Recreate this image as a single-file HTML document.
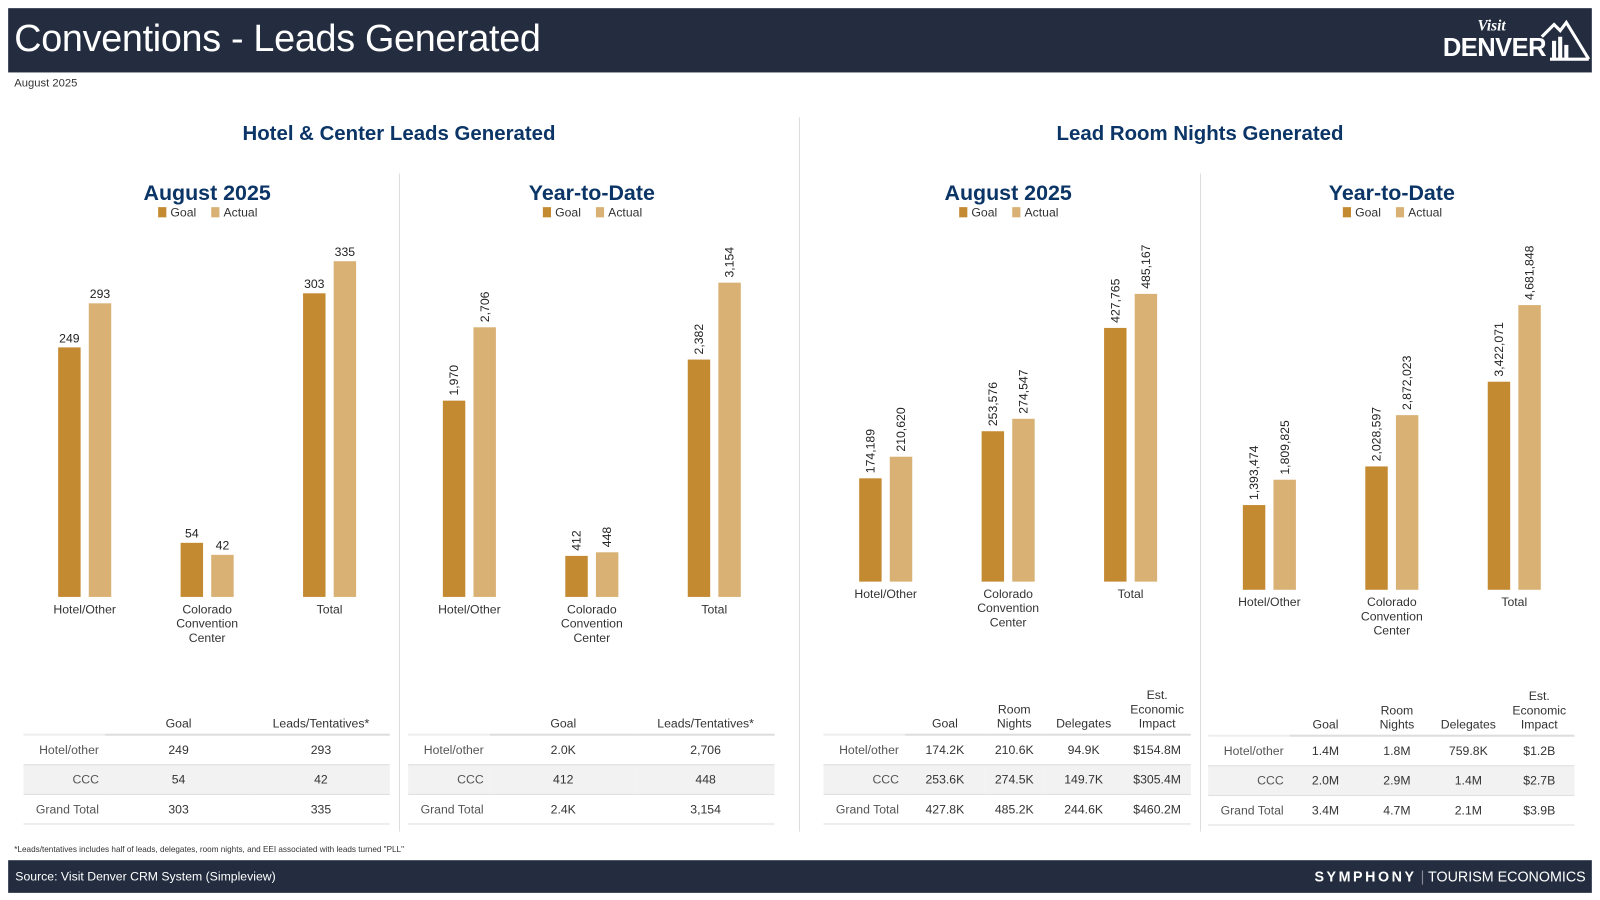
<!DOCTYPE html>
<html><head><meta charset="utf-8">
<style>
html,body{margin:0;padding:0;background:#fff;width:1600px;height:900px;overflow:hidden}
#wrap{position:absolute;left:0;top:0;width:1568px;height:882px;transform:scale(1.0204);transform-origin:0 0;font-family:"Liberation Sans",sans-serif;color:#333}
.abs{position:absolute}
.hdr{left:8px;top:8px;width:1552px;height:63px;background:#232d3f}
.title{left:14px;top:17px;font-size:37px;color:#fff;white-space:nowrap;letter-spacing:-0.3px}
.sec{font-size:20px;font-weight:bold;color:#0b3566;text-align:center;width:500px}
.vline{width:1px;background:#ddd}
table{position:absolute;border-collapse:collapse;font-size:12px;color:#333}
td,th{padding:0;font-weight:normal}
.foot{left:8px;top:843px;width:1552px;height:32px;background:#232d3f}
</style></head><body>
<div id="wrap">
<div class="abs hdr"></div>
<div class="abs title">Conventions - Leads Generated</div>
<div class="abs" style="left:1414px;top:18px;width:145px;height:46px;color:#fff">
  <div style="position:absolute;left:34px;top:0;font-style:italic;font-size:15px;font-family:'Liberation Serif',serif;font-weight:bold">Visit</div>
  <div style="position:absolute;left:0;top:15px;font-size:25px;font-weight:bold;letter-spacing:-0.5px">DENVER</div>
  <svg style="position:absolute;left:95px;top:0" width="50" height="46" viewBox="0 0 50 46"><polyline points="2,18 14,6 20,12 26,4 48,40" fill="none" stroke="#fff" stroke-width="3"/><rect x="12" y="22" width="4" height="18" fill="#fff"/><rect x="18" y="18" width="4" height="22" fill="#fff"/><rect x="24" y="26" width="4" height="14" fill="#fff"/><line x1="10" y1="40" x2="48" y2="40" stroke="#fff" stroke-width="3"/></svg>
</div>
<div class="abs" style="left:14px;top:76px;font-size:11px;color:#333">August 2025</div>

<div class="abs sec" style="left:141px;top:120px">Hotel &amp; Center Leads Generated</div>
<div class="abs sec" style="left:926px;top:120px">Lead Room Nights Generated</div>

<div class="abs vline" style="left:391px;top:170px;height:645px"></div>
<div class="abs vline" style="left:783px;top:115px;height:700px"></div>
<div class="abs vline" style="left:1176px;top:170px;height:645px"></div>

<svg id="charts" class="abs" style="left:0;top:0" width="1568" height="882"></svg>

<div class="abs" style="left:14px;top:828px;font-size:8px;color:#333">*Leads/tentatives includes half of leads, delegates, room nights, and EEI associated with leads turned "PLL"</div>
<div class="abs foot"></div>
<div class="abs" style="left:15px;top:852px;font-size:12px;color:#fff">Source: Visit Denver CRM System (Simpleview)</div>
<div class="abs" style="right:14px;top:851px;font-size:14px;color:#fff;white-space:nowrap"><b style="letter-spacing:2.5px">SYMPHONY</b> <span style="color:#889">|</span> TOURISM ECONOMICS</div>
<div id="tables"></div>
</div>
<script>
// ---- chart data ----
const categories = ["Hotel/Other", "Colorado\nConvention\nCenter", "Total"];
const augLeadsGoal = [249, 54, 303];
const augLeadsActual = [293, 42, 335];
const ytdLeadsGoal = [1970, 412, 2382];
const ytdLeadsActual = [2706, 448, 3154];
const augNightsGoal = [174189, 253576, 427765];
const augNightsActual = [210620, 274547, 485167];
const ytdNightsGoal = [1393474, 2028597, 3422071];
const ytdNightsActual = [1809825, 2872023, 4681848];

const GOAL = "#c48a32", ACT = "#d9b174";
const NS = "http://www.w3.org/2000/svg";
const svg = document.getElementById('charts');
function mk(tag, attrs){const e=document.createElementNS(NS,tag);for(const k in attrs)e.setAttribute(k,attrs[k]);svg.appendChild(e);return e;}
const fmt = v => v.toLocaleString('en-US');

const charts = [
  {id:'aug-leads', cx:203, base:585, pxMax:329, goal:augLeadsGoal, act:augLeadsActual, rot:false, title:'August 2025', catY:596},
  {id:'ytd-leads', cx:580, base:585, pxMax:308, goal:ytdLeadsGoal, act:ytdLeadsActual, rot:true, title:'Year-to-Date', catY:596},
  {id:'aug-nights', cx:988, base:570, pxMax:282, goal:augNightsGoal, act:augNightsActual, rot:true, title:'August 2025', catY:581},
  {id:'ytd-nights', cx:1364, base:578, pxMax:279, goal:ytdNightsGoal, act:ytdNightsActual, rot:true, title:'Year-to-Date', catY:589}
];
charts.forEach(c=>{
  const maxV = Math.max(...c.goal, ...c.act);
  const y = v => c.base - v / maxV * c.pxMax;
  const xc = i => c.cx + (i-1)*120;
  const t = mk('text',{x:c.cx,y:196,'text-anchor':'middle','font-size':21,'font-weight':'bold',fill:'#0b3566'});
  t.textContent=c.title;
  
  
  const lg = mk('g',{});
  
  
  [[GOAL,'Goal',-48],[ACT,'Actual',4]].forEach(([col,lab,dx])=>{
    const r=mk('rect',{x:c.cx+dx,y:203,width:8,height:10,fill:col});lg.appendChild(r);
    const tx=mk('text',{x:c.cx+dx+12,y:212,'font-size':12,fill:'#333'});tx.textContent=lab;lg.appendChild(tx);
  });
  categories.forEach((cat,i)=>{
    [[c.goal[i],GOAL,-26,'goal'],[c.act[i],ACT,4,'actual']].forEach(([v,col,dx,kind])=>{
      const top=y(v);
      const b=mk('rect',{x:xc(i)+dx,y:top,width:22,height:c.base-top,fill:col});
      
      
      const lx=xc(i)+dx+11;
      const l=mk('text',{'font-size':12,fill:'#222'});
      l.textContent=fmt(v);
      if(c.rot){l.setAttribute('transform',`translate(${lx+4},${top-5}) rotate(-90)`);}
      else{l.setAttribute('x',lx);l.setAttribute('y',top-5);l.setAttribute('text-anchor','middle');}
      
      
    });
    cat.split('\n').forEach((ln,j)=>{
      const ct=mk('text',{x:xc(i),y:c.catY+5+j*14,'text-anchor':'middle','font-size':12,fill:'#333'});
      ct.textContent=ln;
      
      
    });
  });
});

// ---- tables ----
const tables = [
  {x:23, w:359, labW:80, cols:[{h:['Goal'],w:144},{h:['Leads/Tentatives*'],w:135}], headTop:698, rows:[['Hotel/other','249','293'],['CCC','54','42'],['Grand Total','303','335']]},
  {x:400, w:359, labW:80, cols:[{h:['Goal'],w:144},{h:['Leads/Tentatives*'],w:135}], headTop:698, rows:[['Hotel/other','2.0K','2,706'],['CCC','412','448'],['Grand Total','2.4K','3,154']]},
  {x:807, w:360, labW:80, cols:[{h:['Goal'],w:78},{h:['Room','Nights'],w:58},{h:['Delegates'],w:78},{h:['Est.','Economic','Impact'],w:66}], headTop:670, rows:[['Hotel/other','174.2K','210.6K','94.9K','$154.8M'],['CCC','253.6K','274.5K','149.7K','$305.4M'],['Grand Total','427.8K','485.2K','244.6K','$460.2M']]},
  {x:1184, w:359, labW:80, cols:[{h:['Goal'],w:70},{h:['Room','Nights'],w:70},{h:['Delegates'],w:70},{h:['Est.','Economic','Impact'],w:69}], headTop:675, rows:[['Hotel/other','1.4M','1.8M','759.8K','$1.2B'],['CCC','2.0M','2.9M','1.4M','$2.7B'],['Grand Total','3.4M','4.7M','2.1M','$3.9B']]}
];
const tw=document.getElementById('tables');
tables.forEach((t,ti)=>{
  const tb=document.createElement('table');
  
  
  const headH = 720 - t.headTop;
  tb.style.left=t.x+'px'; tb.style.top=t.headTop+'px'; tb.style.width=t.w+'px';
  let h='<tr style="height:'+headH+'px"><th style="width:'+t.labW+'px;border-bottom:2px solid #eee"></th>';
  t.cols.forEach(c=>{h+='<th style="width:'+c.w+'px;text-align:center;vertical-align:bottom;line-height:14px;padding-bottom:3px;border-bottom:2px solid #ddd">'+c.h.join('<br>')+'</th>';});
  h+='</tr>';
  t.rows.forEach((r,ri)=>{
    h+='<tr style="height:29px;'+(ri===1?'background:#f2f2f2':'')+'">';
    r.forEach((v,ci)=>{
      h+= ci===0 ? '<td style="text-align:right;padding-right:6px;color:#555;border-bottom:1px solid #ddd">'+v+'</td>'
                 : '<td style="text-align:center;border-bottom:1px solid #ddd">'+v+'</td>';
    });
    h+='</tr>';
  });
  tb.innerHTML=h;
  tw.appendChild(tb);
});
</script>
</body></html>
